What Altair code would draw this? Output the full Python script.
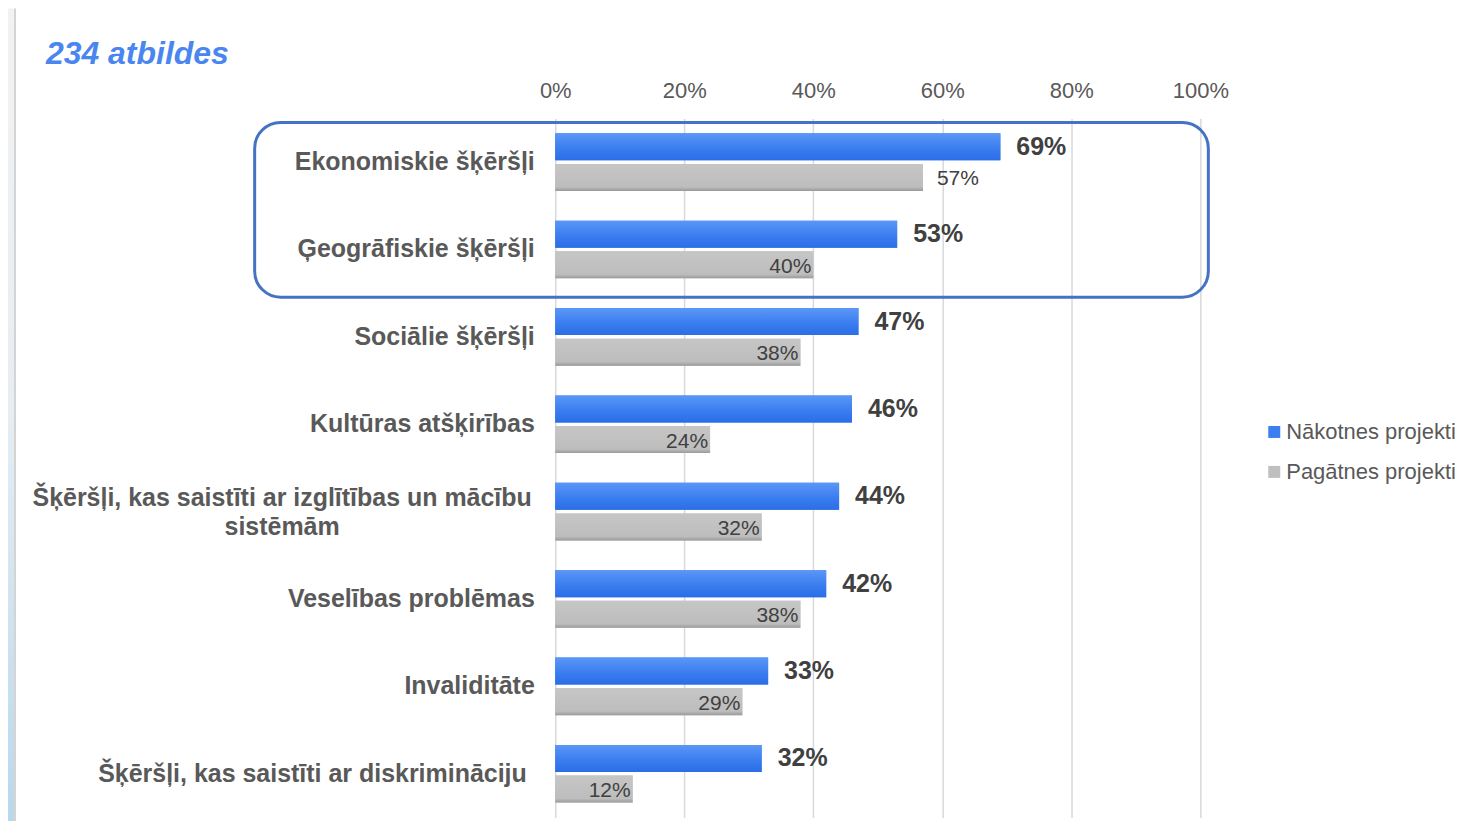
import altair as alt
import pandas as pd

categories = [
    "Ekonomiskie šķēršļi",
    "Ģeogrāfiskie šķēršļi",
    "Sociālie šķēršļi",
    "Kultūras atšķirības",
    "Šķēršļi, kas saistīti ar izglītības un mācību sistēmām",
    "Veselības problēmas",
    "Invaliditāte",
    "Šķēršļi, kas saistīti ar diskrimināciju",
]
future = [69, 53, 47, 46, 44, 42, 33, 32]
past = [57, 40, 38, 24, 32, 38, 29, 12]
series = ["Nākotnes projekti", "Pagātnes projekti"]
colors = ["#3d7ff0", "#bfbfbf"]
ticks = [0, 0.2, 0.4, 0.6, 0.8, 1.0]

rows = []
for c, f, p in zip(categories, future, past):
    rows.append({"category": c, "series": series[0], "value": f / 100, "label": f"{f}%"})
    rows.append({"category": c, "series": series[1], "value": p / 100, "label": f"{p}%"})
df = pd.DataFrame(rows)

FONT = "Liberation Sans"
wrapped = categories[4]
label_expr = (
    "datum.value == '" + wrapped + "' ? "
    "['Šķēršļi, kas saistīti ar izglītības un mācību', 'sistēmām'] : datum.label"
)
is_wrapped = "datum.value == '" + wrapped + "'"
is_last = "datum.value == '" + categories[7] + "'"

base = alt.Chart(df).encode(
    y=alt.Y(
        "category:N",
        sort=categories,
        title=None,
        scale=alt.Scale(paddingInner=0.34, paddingOuter=0.17),
        axis=alt.Axis(
            ticks=False,
            domain=False,
            grid=False,
            labelFont=FONT,
            labelFontSize=25,
            labelFontWeight="bold",
            labelColor="#595959",
            labelPadding={"expr": "(" + is_wrapped + ") ? 274 : ((" + is_last + ") ? 29 : 21)"},
            labelAlign={"condition": {"test": is_wrapped, "value": "center"}, "value": "right"},
            labelOffset={"condition": {"test": is_wrapped, "value": -14}, "value": 0},
            labelLimit=800,
            labelLineHeight=29,
            labelExpr=label_expr,
        ),
    ),
    yOffset=alt.YOffset("series:N", sort=series, scale=alt.Scale(paddingInner=0.12)),
)

bars = base.mark_bar().encode(
    x=alt.X(
        "value:Q",
        title=None,
        scale=alt.Scale(domain=[0, 1]),
        axis=alt.Axis(
            orient="top",
            format=".0%",
            values=ticks,
            ticks=False,
            domain=False,
            labelFlush=False,
            gridColor="#d9d9d9",
            gridWidth=1.5,
            labelFont=FONT,
            labelFontSize=22,
            labelColor="#595959",
            labelPadding=21,
            labelBaseline="alphabetic",
        ),
    ),
    color=alt.Color(
        "series:N",
        sort=series,
        scale=alt.Scale(domain=series, range=colors),
        legend=alt.Legend(
            title=None,
            orient="none",
            legendX=709,
            legendY=303,
            padding=0,
            symbolType="square",
            symbolSize=144,
            symbolStrokeWidth=0,
            labelFont=FONT,
            labelFontSize=22,
            labelColor="#595959",
            labelOffset=1,
            labelLimit=400,
            rowPadding=18,
        ),
    ),
)

blue_grad = alt.LinearGradient(
    gradient="linear", x1=0, x2=0, y1=0, y2=1,
    stops=[alt.GradientStop(offset=0, color="#5c97f7"),
           alt.GradientStop(offset=0.55, color="#3b7ef0"),
           alt.GradientStop(offset=1, color="#2a6de6")],
)
gray_grad = alt.LinearGradient(
    gradient="linear", x1=0, x2=0, y1=0, y2=1,
    stops=[alt.GradientStop(offset=0, color="#c6c6c6"),
           alt.GradientStop(offset=0.85, color="#bdbdbd"),
           alt.GradientStop(offset=1, color="#9a9a9a")],
)

blue_shade = base.mark_bar(color=blue_grad).encode(x="value:Q").transform_filter(
    alt.datum.series == series[0]
)
gray_shade = base.mark_bar(color=gray_grad).encode(x="value:Q").transform_filter(
    alt.datum.series == series[1]
)

blue_labels = base.mark_text(
    align="left", baseline="middle", dx=16, font=FONT, fontSize=25,
    fontWeight="bold", color="#404040",
).encode(x="value:Q", text="label:N").transform_filter(
    alt.datum.series == series[0]
)

gray_inside = base.mark_text(
    align="right", baseline="middle", dx=-2, dy=2, font=FONT, fontSize=21,
    color="#404040",
).encode(x="value:Q", text="label:N").transform_filter(
    (alt.datum.series == series[1]) & (alt.datum.category != categories[0])
)

gray_outside = base.mark_text(
    align="left", baseline="middle", dx=14, dy=2, font=FONT, fontSize=21,
    color="#404040",
).encode(x="value:Q", text="label:N").transform_filter(
    (alt.datum.series == series[1]) & (alt.datum.category == categories[0])
)

highlight = alt.Chart(pd.DataFrame({"k": [0]})).mark_rect(
    fillOpacity=0, stroke="#4472c4", strokeWidth=3, cornerRadius=26
).encode(
    x=alt.value(-301), x2=alt.value(654), y=alt.value(4), y2=alt.value(179)
)

strip_grad = alt.LinearGradient(
    gradient="linear", x1=0, x2=0, y1=0, y2=1,
    stops=[alt.GradientStop(offset=0, color="#f2f2f2"),
           alt.GradientStop(offset=0.5, color="#e6edf3"),
           alt.GradientStop(offset=1, color="#b9d8ec")],
)
frame_strip = alt.Chart(pd.DataFrame({"k": [0]})).mark_rect(color=strip_grad).encode(
    x=alt.value(-548), x2=alt.value(-542), y=alt.value(-110), y2=alt.value(705)
)
frame_line = alt.Chart(pd.DataFrame({"k": [0]})).mark_rule(color="#d4d4d4", strokeWidth=2).encode(
    x=alt.value(-541), y=alt.value(-110), y2=alt.value(705)
)

title = alt.Chart(pd.DataFrame({"t": ["234 atbildes"]})).mark_text(
    align="left", baseline="alphabetic", font=FONT, fontSize=32,
    fontWeight="bold", fontStyle="italic", color="#4a86f0",
).encode(x=alt.value(-510), y=alt.value(-54), text="t:N")

chart = alt.layer(
    frame_strip, frame_line, bars, blue_shade, gray_shade,
    blue_labels, gray_inside, gray_outside, highlight, title,
).properties(
    width=646,
    height=700,
    autosize=alt.AutoSizeParams(type="none"),
    padding={"left": 548, "top": 110, "right": 255, "bottom": 3},
    background="white",
).configure_view(stroke=None)

chart.save("out.html", embed_options={"renderer": "svg", "actions": False})
